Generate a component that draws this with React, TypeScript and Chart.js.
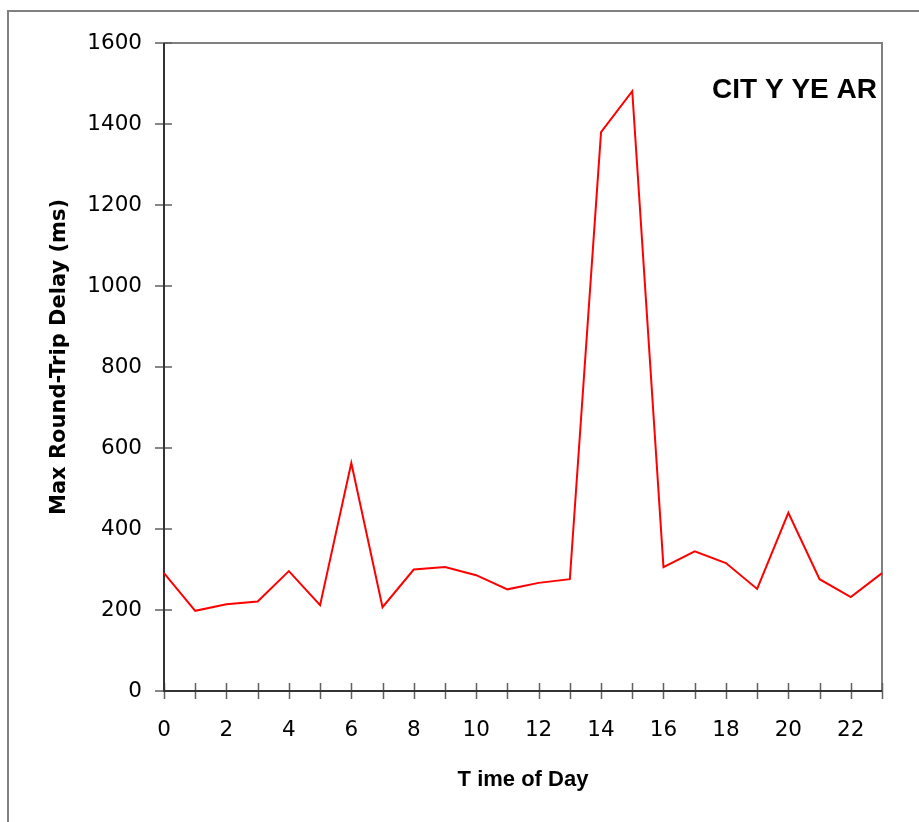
import React, { useEffect, useRef } from 'react';
import { Chart, registerables } from 'chart.js';

Chart.register(...registerables);

const hours: string[] = ['0','1','2','3','4','5','6','7','8','9','10','11','12','13','14','15','16','17','18','19','20','21','22','23'];
const maxDelay: number[] = [291, 198, 214, 221, 296, 212, 563, 207, 300, 306, 286, 251, 267, 276, 1380, 1481, 306, 345, 316, 252, 440, 276, 232, 291];
const yTickValues: number[] = [0, 200, 400, 600, 800, 1000, 1200, 1400, 1600];
const chartLabel = 'CIT Y YE AR';
const xTitle = 'T ime of Day';
const yTitle = 'Max Round-Trip Delay (ms)';

const TICK_FONT = '"DejaVu Sans", sans-serif';
const TITLE_FONT = '"Liberation Sans", Arial, sans-serif';

const framePlugin = {
  id: 'frame',
  beforeDatasetsDraw(chart: any) {
    const { ctx, chartArea: a, scales } = chart;
    ctx.save();
    ctx.strokeStyle = '#808080';
    ctx.lineWidth = 2;
    ctx.beginPath();
    ctx.moveTo(8, 822);
    ctx.lineTo(8, 11);
    ctx.lineTo(919, 11);
    ctx.stroke();
    ctx.beginPath();
    ctx.moveTo(a.left, a.top);
    ctx.lineTo(a.right, a.top);
    ctx.lineTo(a.right, a.bottom);
    ctx.stroke();
    ctx.strokeStyle = '#606060';
    ctx.lineWidth = 1.5;
    ctx.beginPath();
    yTickValues.forEach((v) => {
      const py = Math.round(scales.y.getPixelForValue(v));
      ctx.moveTo(a.left - 9, py);
      ctx.lineTo(a.left + 8, py);
    });
    hours.forEach((_, i) => {
      const px = Math.round(scales.x.getPixelForValue(i)) + 0.5;
      ctx.moveTo(px, a.bottom - 8);
      ctx.lineTo(px, a.bottom + 8);
    });
    ctx.stroke();
    ctx.strokeStyle = '#333333';
    ctx.lineWidth = 2;
    ctx.beginPath();
    ctx.moveTo(a.left, a.top);
    ctx.lineTo(a.left, a.bottom);
    ctx.lineTo(a.right, a.bottom);
    ctx.stroke();
    ctx.restore();
  },
  afterDraw(chart: any) {
    const { ctx, chartArea: a } = chart;
    ctx.save();
    ctx.fillStyle = '#000000';
    ctx.font = 'bold 28px ' + TITLE_FONT;
    ctx.textAlign = 'right';
    ctx.textBaseline = 'alphabetic';
    ctx.fillText(chartLabel, 877, 98);
    ctx.restore();
    // vertical axis title
    ctx.save();
    ctx.fillStyle = '#000000';
    ctx.font = 'bold 21px ' + TICK_FONT;
    ctx.textAlign = 'center';
    ctx.textBaseline = 'middle';
    ctx.translate(60, (a.top + a.bottom) / 2 - 10);
    ctx.rotate(-Math.PI / 2);
    ctx.fillText(yTitle, 0, 0);
    ctx.restore();
  },
};

export default function App() {
  const ref = useRef<HTMLCanvasElement | null>(null);
  useEffect(() => {
    if (!ref.current) return;
    const chart = new Chart(ref.current, {
      type: 'line',
      data: {
        labels: hours,
        datasets: [
          {
            label: yTitle,
            data: maxDelay,
            borderColor: '#ff0000',
            backgroundColor: '#ff0000',
            borderWidth: 2,
            pointRadius: 0,
            tension: 0,
            fill: false,
          },
        ],
      },
      options: {
        responsive: false,
        animation: false,
        devicePixelRatio: 1,
        layout: { padding: { top: 43, right: 37, left: 0, bottom: 0 } },
        plugins: { legend: { display: false }, tooltip: { enabled: false }, title: { display: false } },
        scales: {
          x: {
            type: 'category',
            offset: false,
            grid: { display: false, drawTicks: false },
            border: { display: false },
            ticks: {
              autoSkip: false,
              maxRotation: 0,
              padding: 27,
              color: '#000000',
              font: { family: TICK_FONT, size: 21.5 },
              callback: (_v: any, i: number) => (i % 2 === 0 ? hours[i] : ''),
            },
            title: {
              display: true,
              text: xTitle,
              color: '#000000',
              font: { family: TITLE_FONT, size: 22, weight: 'bold' },
              padding: { top: 0, bottom: 29 },
            },
            afterFit: (s: any) => { s.height = 131; },
          },
          y: {
            min: yTickValues[0],
            max: yTickValues[yTickValues.length - 1],
            grid: { display: false, drawTicks: false },
            border: { display: false },
            ticks: {
              stepSize: 200,
              padding: 22,
              color: '#000000',
              font: { family: TICK_FONT, size: 21.5 },
              callback: (v: any) => String(v),
            },
            title: { display: false },
            afterFit: (s: any) => { s.width = 164; },
          },
        },
      },
      plugins: [framePlugin],
    });
    return () => chart.destroy();
  }, []);
  return (
    <canvas
      ref={ref}
      width={919}
      height={822}
      style={{ position: 'fixed', left: 0, top: 0, width: 919, height: 822 }}
    />
  );
}
